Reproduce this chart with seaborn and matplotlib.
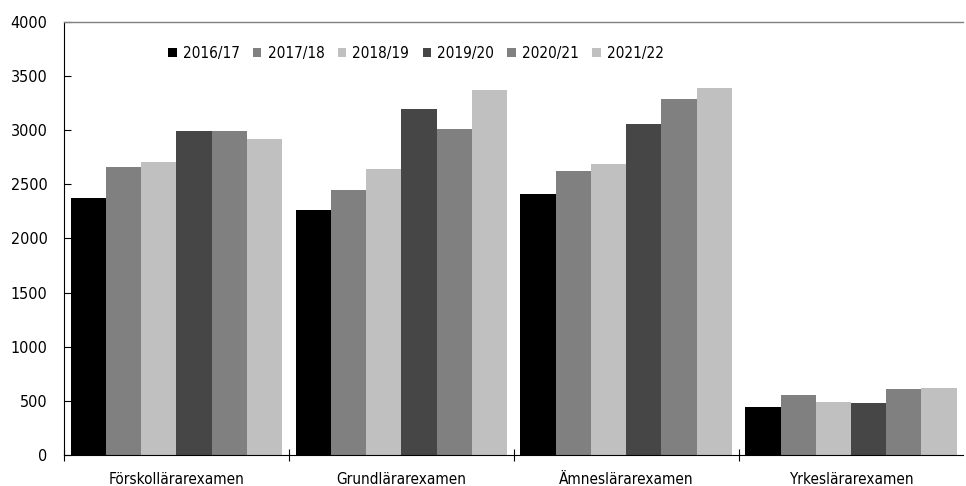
import pandas as pd
import numpy as np
import matplotlib
matplotlib.use("Agg")
import matplotlib.pyplot as plt
import seaborn as sns

categories = ["Förskollärarexamen", "Grundlärarexamen", "Ämneslärarexamen", "Yrkeslärarexamen"]
years = ["2016/17", "2017/18", "2018/19", "2019/20", "2020/21", "2021/22"]

v_2016_17 = [2377, 2262, 2407, 446]
v_2017_18 = [2656, 2447, 2625, 551]
v_2018_19 = [2702, 2644, 2690, 487]
v_2019_20 = [2994, 3192, 3056, 483]
v_2020_21 = [2994, 3007, 3293, 609]
v_2021_22 = [2915, 3367, 3386, 619]

colors = ["#000000", "#808080", "#c0c0c0", "#464646", "#808080", "#c0c0c0"]

series = [v_2016_17, v_2017_18, v_2018_19, v_2019_20, v_2020_21, v_2021_22]
rows = []
for year, vals in zip(years, series):
  for cat, v in zip(categories, vals):
    rows.append({"Examen": cat, "År": year, "Antal": v})
df = pd.DataFrame(rows)

sns.set_style("white")
plt.rcParams['font.family'] = ['DejaVu Sans']
plt.rcParams['font.stretch'] = 'condensed'
plt.rcParams['text.color'] = 'black'
plt.rcParams['xtick.color'] = 'black'
plt.rcParams['ytick.color'] = 'black'

fig = plt.figure(figsize=(9.66, 4.86), dpi=100)
ax = fig.add_axes([0.0663, 0.0638, 0.931, 0.891])

sns.barplot(data=df, x="Examen", y="Antal", hue="År", hue_order=years,
            palette=colors, width=0.94, ax=ax, edgecolor="none", linewidth=0)

ax.set_ylim(0, 4000)
ax.set_xlim(-0.5, 3.5)
ax.set_yticks(np.arange(0, 4001, 500))
ax.tick_params(axis="y", direction="in", length=5, width=0.8, labelsize=11.5, pad=12, left=True)
ax.set_xticks(range(4))
ax.set_xticklabels(categories)
ax.set_xticks([-0.5, 0.5, 1.5, 2.5], minor=True)
ax.tick_params(axis="x", which="major", length=0, labelsize=11, pad=12)
ax.tick_params(axis="x", which="minor", direction="inout", length=8, width=0.8, bottom=True)
ax.set_xlabel("")
ax.set_ylabel("")
ax.spines["right"].set_visible(False)
ax.spines["top"].set_color("#808080")
ax.spines["top"].set_linewidth(1.0)
for s in ["left", "bottom"]:
  ax.spines[s].set_color("black")
  ax.spines[s].set_linewidth(0.8)

ax.legend(loc="upper left", bbox_to_anchor=(0.109, 0.958), ncol=6, frameon=False,
          fontsize=11, handlelength=0.55, handleheight=0.55, handletextpad=0.4,
          columnspacing=0.88, borderaxespad=0)

fig.savefig("out.png", dpi=100)
